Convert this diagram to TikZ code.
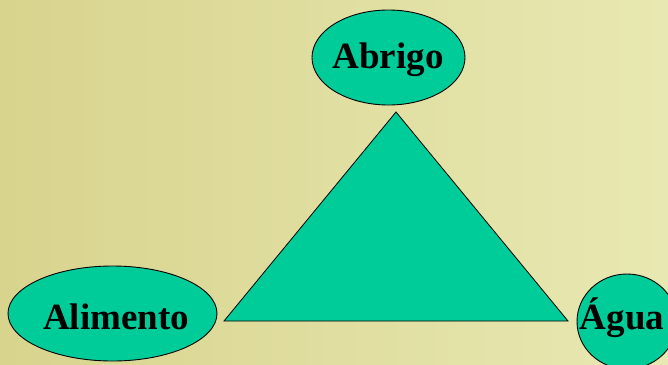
\documentclass[tikz,border=0pt]{standalone}
\usepackage{fontspec}
\setmainfont{Liberation Serif}
\usetikzlibrary{shapes.geometric}
\definecolor{tealfill}{RGB}{0,204,153}
\definecolor{bgleft}{RGB}{216,212,142}
\definecolor{bgright}{RGB}{232,232,178}
\tikzset{
  bubble/.style={ellipse, draw=black, line width=0.9pt, fill=tealfill, inner sep=0pt,
    font=\fontsize{37}{40}\selectfont\bfseries, text=black},
}
\begin{document}
\begin{tikzpicture}[x=1pt,y=-1pt]
\useasboundingbox (0,0) rectangle (668,364);
\clip (0,0) rectangle (668,364);
\shade[left color=bgleft, right color=bgright] (0,0) rectangle (668,364);
\coordinate (apex) at (396,112);
\coordinate (bl) at (224,321);
\coordinate (br) at (568,321);
\draw[fill=tealfill, line width=0.8pt, line join=miter] (apex) -- (br) -- (bl) -- cycle;
\node[bubble, minimum width=153pt, minimum height=95pt] (abrigo) at (388.5,57.5) {};
\node[font=\fontsize{37}{40}\selectfont\bfseries] (abrigot) at (388,60) {Abrigo};
\node[bubble, minimum width=209pt, minimum height=95pt] (alimento) at (112.5,313.5) {};
\node[font=\fontsize{37}{40}\selectfont\bfseries] (alimentot) at (116,317) {Alimento};
\node[bubble, minimum width=100pt, minimum height=95pt] (agua) at (627,321.5) {};
\node[font=\fontsize{37}{40}\selectfont\bfseries] (aguat) at (622,318) {Água};
\end{tikzpicture}
\end{document}
